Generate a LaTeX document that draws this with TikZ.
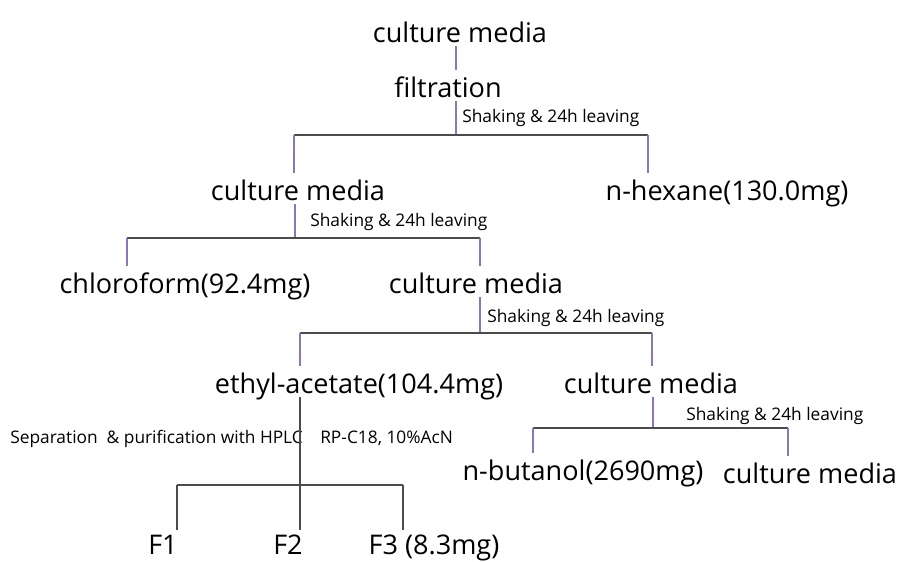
\documentclass[tikz,border=0pt]{standalone}
\usepackage{fontspec}
\setmainfont{Open Sans}
\usepackage{tikz}
\definecolor{stemviolet}{RGB}{140,118,185}
\definecolor{bargray}{RGB}{75,75,75}
\tikzstyle{fraction} = [anchor=base, inner xsep=0pt, inner ysep=3pt, text height=17pt, text depth=0pt, font=\fontsize{20.3}{23}\selectfont]
\tikzstyle{note} = [anchor=base west, inner sep=0pt, font=\fontsize{13}{15}\selectfont]
\tikzstyle{stem} = [draw=stemviolet, line width=0.8pt]
\tikzstyle{bar} = [draw=bargray, line width=1pt]

\begin{document}
\begin{tikzpicture}[x=0.75pt, y=-0.75pt]
\useasboundingbox (0,0) rectangle (898,561);
% fractions
\node (cm1) [fraction] at (460,42) {culture media};
\node (filt) [fraction] at (448,97) {filtration};
\node (cm2) [fraction] at (298,200) {culture media};
\node (hexane) [fraction] at (727,200) {n-hexane(130.0mg)};
\node (chloro) [fraction] at (185,293) {chloroform(92.4mg)};
\node (cm3) [fraction] at (476,293) {culture media};
\node (ethyl) [fraction] at (359,393) {ethyl-acetate(104.4mg)};
\node (cm4) [fraction] at (651,393) {culture media};
\node (butanol) [fraction] at (583,480) {n-butanol(2690mg)};
\node (cm5) [fraction] at (810,483) {culture media};
\node (F1) [fraction, inner ysep=1pt] at (163,554) {F1};
\node (F2) [fraction, inner ysep=1pt] at (288,554) {F2};
\node (F3) [fraction, inner ysep=1pt] at (434,554) {F3 (8.3mg)};
% notes
\node (shake1) [note] at (462,122) {Shaking \& 24h leaving};
\node (shake2) [note] at (310,226) {Shaking \& 24h leaving};
\node (shake3) [note] at (487,322) {Shaking \& 24h leaving};
\node (shake4) [note] at (686,420) {Shaking \& 24h leaving};
\node (hplc) [note] at (10,443) {Separation\ \ \& purification with HPLC};
\node (column) [note] at (320,443) {RP-C18, 10\%AcN};
% branch points
\coordinate (b1) at (456,135);
\coordinate (b1l) at (294,135);
\coordinate (b1r) at (648,135);
\coordinate (b2) at (295,238);
\coordinate (b2l) at (127,238);
\coordinate (b2r) at (480,238);
\coordinate (b3) at (480,333);
\coordinate (b3l) at (300,333);
\coordinate (b3r) at (652,333);
\coordinate (b4) at (653,428);
\coordinate (b4l) at (533,428);
\coordinate (b4r) at (788,428);
\coordinate (b5) at (300,485);
\coordinate (b5l) at (177,485);
\coordinate (b5r) at (403,485);
% extraction tree
\draw [stem] (cm1.south -| b1) -- (filt.north -| b1);
\draw [stem] (filt.south -| b1) -- (b1);
\draw [bar] (b1l) -- (b1r);
\draw [stem] (b1l) -- (b1l |- cm2.north);
\draw [stem] (b1r) -- (b1r |- hexane.north);
\draw [stem] (cm2.south -| b2) -- (b2);
\draw [bar] (b2l) -- (b2r);
\draw [stem] (b2l) -- (b2l |- chloro.north);
\draw [stem] (b2r) -- (b2r |- cm3.north);
\draw [stem] (cm3.south -| b3) -- (b3);
\draw [bar] (b3l) -- (b3r);
\draw [stem] (b3l) -- (b3l |- ethyl.north);
\draw [stem] (b3r) -- (b3r |- cm4.north);
\draw [stem] (cm4.south -| b4) -- (b4);
\draw [bar] (b4l) -- (b4r);
\draw [stem] (b4l) -- (b4l |- butanol.north);
\draw [stem] (b4r) -- (b4r |- cm5.north);
% HPLC
\draw [bar] (ethyl.south -| b5) -- (F2.north -| b5);
\draw [bar] (b5l) -- (b5r);
\draw [bar] (b5l) -- (b5l |- F1.north);
\draw [bar] (b5r) -- (b5r |- F3.north);
\end{tikzpicture}
\end{document}
